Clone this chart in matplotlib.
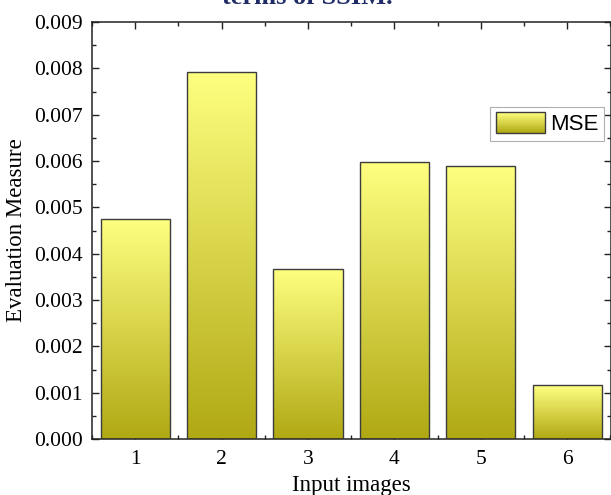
import numpy as np
import matplotlib.pyplot as plt
from matplotlib.patches import Rectangle
from matplotlib.collections import PatchCollection
from matplotlib.legend_handler import HandlerBase
from matplotlib.colors import LinearSegmentedColormap
from matplotlib.ticker import MultipleLocator, FormatStrFormatter

# --- data ---
images = [1, 2, 3, 4, 5, 6]
mse = [0.00475, 0.00793, 0.00367, 0.00597, 0.00589, 0.00116]

# two-colour fill, light yellow at the top fading to olive at the base
grad = LinearSegmentedColormap.from_list("olive", ["#b0a914", "#ffff80"])
serif = ["Liberation Serif", "DejaVu Serif"]

fig = plt.figure(figsize=(6.11, 4.95), dpi=100, facecolor="white")
ax = fig.add_axes([92 / 611, 56 / 495, 518.5 / 611, 417 / 495])

bars = ax.bar(images, mse, width=0.8, facecolor="none",
              edgecolor="#3c3c3c", linewidth=1.0, zorder=3)

# gradient fill clipped to each bar
col = np.linspace(0, 1, 256).reshape(-1, 1)
for b in bars:
    x0, w, h = b.get_x(), b.get_width(), b.get_height()
    im = ax.imshow(col, cmap=grad, origin="lower", aspect="auto",
                   extent=[x0, x0 + w, 0, h], zorder=2, interpolation="bilinear")
    im.set_clip_path(b)

ax.set_xlim(0.5, 6.5)
ax.set_ylim(0, 0.009)

ax.xaxis.set_major_locator(MultipleLocator(1))
ax.xaxis.set_minor_locator(MultipleLocator(0.5))
ax.yaxis.set_major_locator(MultipleLocator(0.001))
ax.yaxis.set_minor_locator(MultipleLocator(0.0005))
ax.yaxis.set_major_formatter(FormatStrFormatter("%.3f"))

ax.tick_params(which="both", direction="in", top=True, right=True, width=1.0,
               color="#222222")
ax.tick_params(which="major", length=5, labelsize=15.5)
ax.tick_params(axis="y", which="major", pad=6.5)
ax.tick_params(axis="x", which="major", pad=8)
ax.tick_params(which="minor", length=3)
for lab in ax.get_xticklabels() + ax.get_yticklabels():
    lab.set_family(serif)
for s in ax.spines.values():
    s.set_linewidth(1.1)
    s.set_color("#222222")

ax.set_xlabel("Input images", family=serif, fontsize=16.5, labelpad=4)
ax.set_ylabel("Evaluation Measure", family=serif, fontsize=16.5, labelpad=5)


class GradientHandler(HandlerBase):
    def create_artists(self, legend, orig_handle, xdescent, ydescent,
                       width, height, fontsize, trans):
        n = 40
        strips = []
        for i in range(n):
            strips.append(Rectangle((-xdescent, -ydescent + height * i / n),
                                    width, height / n + 0.2))
        pc = PatchCollection(strips, facecolors=[grad(i / (n - 1)) for i in range(n)],
                             edgecolors="none", transform=trans)
        frame = Rectangle((-xdescent, -ydescent), width, height,
                          facecolor="none", edgecolor="#3c3c3c",
                          linewidth=1.0, transform=trans)
        return [pc, frame]


leg = ax.legend([bars[0]], ["MSE"], handler_map={type(bars[0]): GradientHandler()},
                loc="upper right", bbox_to_anchor=(0.987, 0.797),
                prop={"family": ["Liberation Sans", "DejaVu Sans"], "size": 16},
                handlelength=2.2, handleheight=1.05, handletextpad=0.22,
                borderpad=0.25, borderaxespad=0, fancybox=False, framealpha=1)
leg.get_frame().set_edgecolor("#b0b0b0")
leg.get_frame().set_linewidth(0.8)

# caption line running off the top edge
fig.text(307 / 611, 1 - 4 / 495, "terms of SSIM.", ha="center", va="baseline",
         family=serif, fontsize=19, fontweight="bold", color="#1f2c66")

fig.savefig("out.png", dpi=100, facecolor=fig.get_facecolor())
